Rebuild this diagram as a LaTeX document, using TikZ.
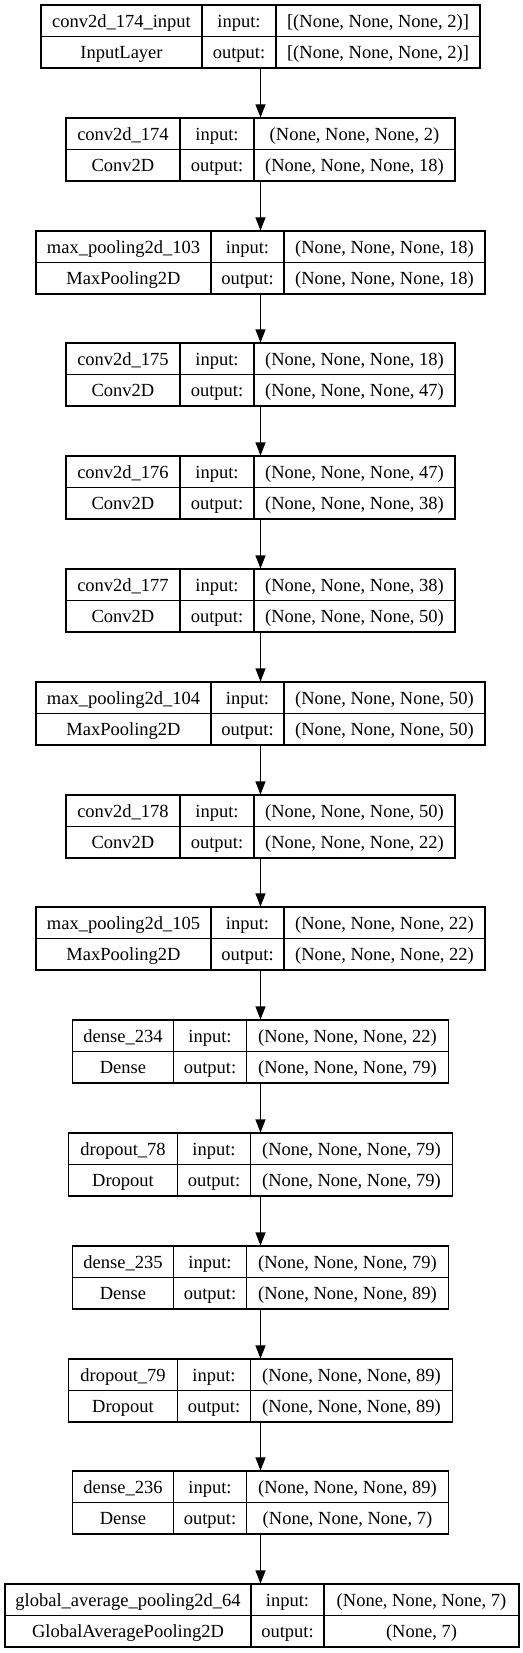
\documentclass[tikz,border=0pt]{standalone}
\usepackage{fontspec}
\setmainfont{Liberation Serif}
\usetikzlibrary{arrows.meta}
\tikzset{>={Triangle[length=13pt,width=10pt]}}
\tikzset{
  cell/.style={inner sep=0pt, text height=13pt, text depth=0pt,
    font=\fontsize{18.5pt}{22pt}\selectfont},
  layerbox/.style={draw, line width=1.1pt, inner sep=0pt, minimum height=63pt},
  inputcols/.code={\def\xl{41}\def\xa{202}\def\xb{276}\def\xr{480}},
  convcols/.code={\def\xl{66}\def\xa{180}\def\xb{254}\def\xr{455}},
  poolcols/.code={\def\xl{36}\def\xa{211}\def\xb{284}\def\xr{485}},
  densecols/.code={\def\xl{72.5}\def\xa{173.5}\def\xb{246.5}\def\xr{448.5}},
  dropcols/.code={\def\xl{68.5}\def\xa{177.5}\def\xb{250.5}\def\xr{452.5}},
  globcols/.code={\def\xl{5}\def\xa{251}\def\xb{324}\def\xr{519}},
}
% one layer: columns, id, top, name, class, input shape, output shape
\newcommand{\layer}[7]{%
  \tikzset{#1}%
  \pgfmathsetmacro\bw{\xr-\xl}%
  \node[layerbox, minimum width=\bw pt] (#2) at ({(\xl+\xr)/2},{#3+31.5}) {};
  \draw[line width=1.1pt] (#2.west) -- (#2.east);
  \draw[line width=1.1pt] (\xa,#3) -- (\xa,{#3+63});
  \draw[line width=1.1pt] (\xb,#3) -- (\xb,{#3+63});
  \node[cell] (#2-name) at ({(\xl+\xa)/2},{#3+15.75}) {#4};
  \node[cell] (#2-class) at ({(\xl+\xa)/2},{#3+47.25}) {#5};
  \node[cell] (#2-inl) at ({(\xa+\xb)/2},{#3+15.75}) {input:};
  \node[cell] (#2-outl) at ({(\xa+\xb)/2},{#3+47.25}) {output:};
  \node[cell] (#2-in) at ({(\xb+\xr)/2},{#3+15.75}) {#6};
  \node[cell] (#2-out) at ({(\xb+\xr)/2},{#3+47.25}) {#7};
}

\begin{document}
\begin{tikzpicture}[x=1pt,y=-1pt]
\useasboundingbox (0,0) rectangle (522,1653);

\layer{inputcols}{in174}{5}{conv2d\_174\_input}{InputLayer}{[(None, None, None, 2)]}{[(None, None, None, 2)]}
\layer{convcols}{c174}{118}{conv2d\_174}{Conv2D}{(None, None, None, 2)}{(None, None, None, 18)}
\layer{poolcols}{mp103}{231}{max\_pooling2d\_103}{MaxPooling2D}{(None, None, None, 18)}{(None, None, None, 18)}
\layer{convcols}{c175}{343}{conv2d\_175}{Conv2D}{(None, None, None, 18)}{(None, None, None, 47)}
\layer{convcols}{c176}{456}{conv2d\_176}{Conv2D}{(None, None, None, 47)}{(None, None, None, 38)}
\layer{convcols}{c177}{569}{conv2d\_177}{Conv2D}{(None, None, None, 38)}{(None, None, None, 50)}
\layer{poolcols}{mp104}{682}{max\_pooling2d\_104}{MaxPooling2D}{(None, None, None, 50)}{(None, None, None, 50)}
\layer{convcols}{c178}{795}{conv2d\_178}{Conv2D}{(None, None, None, 50)}{(None, None, None, 22)}
\layer{poolcols}{mp105}{907}{max\_pooling2d\_105}{MaxPooling2D}{(None, None, None, 22)}{(None, None, None, 22)}
\layer{densecols}{d234}{1020}{dense\_234}{Dense}{(None, None, None, 22)}{(None, None, None, 79)}
\layer{dropcols}{dr78}{1133}{dropout\_78}{Dropout}{(None, None, None, 79)}{(None, None, None, 79)}
\layer{densecols}{d235}{1246}{dense\_235}{Dense}{(None, None, None, 79)}{(None, None, None, 89)}
\layer{dropcols}{dr79}{1359}{dropout\_79}{Dropout}{(None, None, None, 89)}{(None, None, None, 89)}
\layer{densecols}{d236}{1471}{dense\_236}{Dense}{(None, None, None, 89)}{(None, None, None, 7)}
\layer{globcols}{gap64}{1584}{global\_average\_pooling2d\_64}{GlobalAveragePooling2D}{(None, None, None, 7)}{(None, 7)}

\begin{scope}[every edge/.style={draw=black,line width=1.1pt}]
    \path [->] (in174.south) edge (in174.south |- c174.north);
    \path [->] (c174.south) edge (c174.south |- mp103.north);
    \path [->] (mp103.south) edge (mp103.south |- c175.north);
    \path [->] (c175.south) edge (c175.south |- c176.north);
    \path [->] (c176.south) edge (c176.south |- c177.north);
    \path [->] (c177.south) edge (c177.south |- mp104.north);
    \path [->] (mp104.south) edge (mp104.south |- c178.north);
    \path [->] (c178.south) edge (c178.south |- mp105.north);
    \path [->] (mp105.south) edge (mp105.south |- d234.north);
    \path [->] (d234.south) edge (d234.south |- dr78.north);
    \path [->] (dr78.south) edge (dr78.south |- d235.north);
    \path [->] (d235.south) edge (d235.south |- dr79.north);
    \path [->] (dr79.south) edge (dr79.south |- d236.north);
    \path [->] (d236.south) edge (d236.south |- gap64.north);
\end{scope}
\end{tikzpicture}
\end{document}
